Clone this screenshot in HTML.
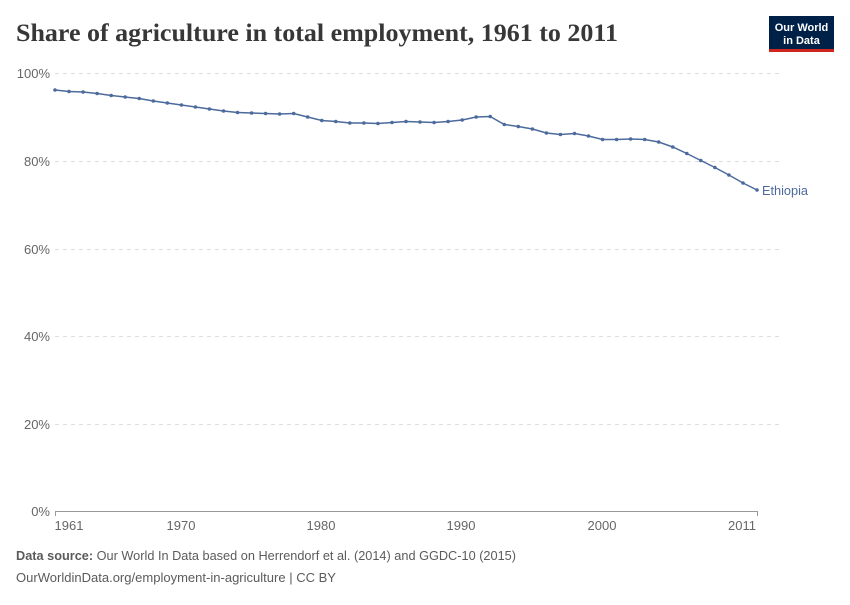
<!DOCTYPE html>
<html><head><meta charset="utf-8"><style>
body{margin:0;background:#fff;width:850px;height:600px;overflow:hidden;font-family:"Liberation Sans",sans-serif}
</style></head><body>
<svg width="850" height="600" xmlns="http://www.w3.org/2000/svg">
<text x="16" y="41" font-family="Liberation Serif,serif" font-size="25" font-weight="bold" fill="#373737" textLength="602" lengthAdjust="spacingAndGlyphs">Share of agriculture in total employment, 1961 to 2011</text>
<rect x="769" y="16" width="65" height="34" fill="#002147"/>
<rect x="769" y="49" width="65" height="3" fill="#ce261e"/>
<text x="801.5" y="31" font-size="11" font-weight="bold" fill="#fff" text-anchor="middle">Our World</text>
<text x="801.5" y="44" font-size="11" font-weight="bold" fill="#fff" text-anchor="middle">in Data</text>
<g stroke="#ddd" stroke-dasharray="4,4" stroke-width="1">
<line x1="55" x2="780" y1="73.5" y2="73.5"/><line x1="55" x2="780" y1="161.5" y2="161.5"/>
<line x1="55" x2="780" y1="249.5" y2="249.5"/><line x1="55" x2="780" y1="336.5" y2="336.5"/>
<line x1="55" x2="780" y1="424.5" y2="424.5"/>
</g>
<line x1="55" x2="758" y1="511.5" y2="511.5" stroke="#999"/>
<g font-size="13" fill="#666" text-anchor="end">
<text x="50" y="78">100%</text><text x="50" y="166">80%</text><text x="50" y="254">60%</text>
<text x="50" y="341">40%</text><text x="50" y="429">20%</text><text x="50" y="516">0%</text>
</g>
<g stroke="#999"><line x1="55.5" x2="55.5" y1="511" y2="516"/><line x1="757.5" x2="757.5" y1="511" y2="516"/></g>
<g font-size="13" fill="#666" text-anchor="middle">
<text x="69" y="530">1961</text><text x="181" y="530">1970</text><text x="321" y="530">1980</text>
<text x="461" y="530">1990</text><text x="602" y="530">2000</text><text x="742" y="530">2011</text>
</g>
<polyline id="l" fill="none" stroke="#4c6a9c" stroke-width="1.5" points=""/>
<g id="d" fill="#4c6a9c"></g>
<text x="762" y="195" font-size="13" fill="#4c6a9c" textLength="46" lengthAdjust="spacingAndGlyphs">Ethiopia</text>
<text x="16" y="560" font-size="13" fill="#5b5b5b" textLength="500" lengthAdjust="spacingAndGlyphs"><tspan font-weight="bold">Data source:</tspan> Our World In Data based on Herrendorf et al. (2014) and GGDC-10 (2015)</text>
<text x="16" y="582" font-size="13" fill="#5b5b5b" textLength="320" lengthAdjust="spacingAndGlyphs">OurWorldinData.org/employment-in-agriculture | CC BY</text>
</svg>
<script>
var ys=[90,91.5,92,93.5,95.5,97,98.5,101,103,105,107,109,111,112.5,113,113.5,114,113.5,117,120.5,121.5,123,123,123.5,122.5,121.5,122,122.5,121.5,120,117,116.5,124.5,126.5,129,133,134.5,133.5,136,139.5,139.5,139,139.5,142,147,153.5,160.5,167.5,175,183,190];
var p=[],g=document.getElementById('d'),h='';
ys.forEach(function(y,i){var x=55+i*14.04;p.push(x.toFixed(1)+','+y);h+='<circle cx="'+x.toFixed(1)+'" cy="'+y+'" r="1.8"/>';});
document.getElementById('l').setAttribute('points',p.join(' '));
g.innerHTML=h;
</script>
</body></html>
